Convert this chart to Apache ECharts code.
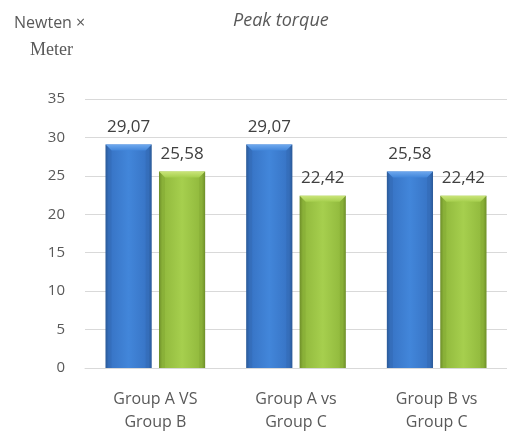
<!DOCTYPE html>
<html><head><meta charset="utf-8">
<script src="https://cdn.jsdelivr.net/npm/echarts@6/dist/echarts.min.js"></script>
<style>html,body{margin:0;padding:0;background:#fff}#c{width:507px;height:434px}</style>
</head><body><div id="c"></div>
<script>
const categories = ['Group A VS\nGroup B', 'Group A vs\nGroup C', 'Group B vs\nGroup C'];
const firstValues = [29.07, 29.07, 25.58];
const secondValues = [25.58, 22.42, 22.42];
const yTicks = [0, 5, 10, 15, 20, 25, 30, 35];

const FF = '"Open Sans"';
const palettes = [
  {dark: '#2b5a98', mid: '#3773c4', light: '#4286da', bevel: '#6ea8ee'},
  {dark: '#6f8f2a', mid: '#90b83c', light: '#a6cf4e', bevel: '#cbe57a'}
];
function grad(p) {
  return new echarts.graphic.LinearGradient(0, 0, 1, 0, [
    {offset: 0, color: p.dark}, {offset: 0.07, color: p.mid}, {offset: 0.5, color: p.light},
    {offset: 0.93, color: p.mid}, {offset: 1, color: p.dark}
  ]);
}
function makeRender(side) {
  const p = palettes[side];
  return function (params, api) {
    const band = api.size([1, 0])[0];
    const bw = band * 0.328;
    const off = (side === 0 ? -1 : 1) * band * 0.19;
    const top = api.coord([api.value(0), api.value(1)]);
    const base = api.coord([api.value(0), 0]);
    const x = top[0] + off - bw / 2;
    const h = base[1] - top[1];
    const b = 6;
    const label = api.value(1).toFixed(2).replace('.', ',');
    return {
      type: 'group',
      children: [
        {type: 'rect', shape: {x: x, y: top[1], width: bw, height: h},
         style: {fill: grad(p)},
         textContent: {style: {text: label, fill: '#404040', font: '17px ' + FF}},
         textConfig: {position: 'top', distance: 9}},
        {type: 'polygon', shape: {points: [[x, top[1]], [x + bw, top[1]], [x + bw - b, top[1] + b], [x + b, top[1] + b]]},
         style: {fill: new echarts.graphic.LinearGradient(0, 0, 0, 1, [{offset: 0, color: p.bevel}, {offset: 1, color: p.light}])}},
        {type: 'polygon', shape: {points: [[x, top[1]], [x + b, top[1] + b], [x + b, base[1]], [x, base[1]]]},
         style: {fill: p.dark, opacity: 0.2}},
        {type: 'polygon', shape: {points: [[x + bw, top[1]], [x + bw - b, top[1] + b], [x + bw - b, base[1]], [x + bw, base[1]]]},
         style: {fill: p.dark, opacity: 0.2}}
      ]
    };
  };
}
const chart = echarts.init(document.getElementById('c'));
chart.setOption({
  animation: false,
  textStyle: {fontFamily: FF},
  grid: {left: 85, right: -11, top: 99, bottom: 59, containLabel: false},
  graphic: [
    {type: 'text', left: 14, top: 15, style: {text: 'Newten ×', font: '16px "Open Sans"', fill: '#595959'}},
    {type: 'text', left: 30, top: 41, style: {text: 'Meter', font: '18px "Liberation Serif"', fill: '#595959'}},
    {type: 'text', left: 233, top: 12, style: {text: 'Peak torque', font: 'italic 18px "Open Sans"', fill: '#595959'}}
  ],
  xAxis: {
    type: 'category', data: categories,
    axisLine: {lineStyle: {color: '#d9d9d9'}}, axisTick: {show: false},
    axisLabel: {color: '#595959', fontSize: 16, lineHeight: 23, margin: 20, fontFamily: FF}
  },
  yAxis: {
    type: 'value', min: 0, max: 35, interval: 5,
    axisLine: {show: false}, axisTick: {show: false},
    splitLine: {lineStyle: {color: '#d9d9d9'}},
    axisLabel: {color: '#595959', fontSize: 15, margin: 20, fontFamily: FF}
  },
  series: [
    {type: 'custom', renderItem: makeRender(0), data: firstValues.map((v, i) => [i, v]), encode: {x: 0, y: 1}, z: 3},
    {type: 'custom', renderItem: makeRender(1), data: secondValues.map((v, i) => [i, v]), encode: {x: 0, y: 1}, z: 3}
  ]
});
</script></body></html>
